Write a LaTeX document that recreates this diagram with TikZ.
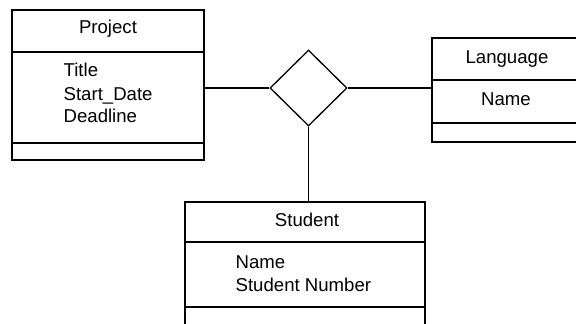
\documentclass[tikz,border=0pt]{standalone}
\usepackage{fontspec}
\setmainfont{Liberation Sans}
\usetikzlibrary{shapes.geometric}
\begin{document}
\begin{tikzpicture}[x=1pt,y=-1pt,
  line width=1.3pt,
  entity/.style={draw, rectangle, inner sep=0pt},
  relation/.style={draw, diamond, aspect=1, inner sep=0pt,
    minimum width=77pt, minimum height=76pt},
  label/.style={inner sep=0pt, font=\fontsize{18.6}{21}\selectfont}
]
\useasboundingbox (0,0) rectangle (576,324);
\clip (0,0) rectangle (576,324);

% entity boxes
\node[entity, minimum width=192pt, minimum height=150pt] (proj) at (108,85) {};
\node[entity, minimum width=146pt, minimum height=104pt] (lang) at (505,90) {};
\node[entity, minimum width=240pt, minimum height=128pt] (stud) at (305,266) {};

% compartment dividers
\draw (proj.west |- 0,52) -- (proj.east |- 0,52);
\draw (proj.west |- 0,143) -- (proj.east |- 0,143);
\draw (lang.west |- 0,80) -- (lang.east |- 0,80);
\draw (lang.west |- 0,123) -- (lang.east |- 0,123);
\draw (stud.west |- 0,242) -- (stud.east |- 0,242);
\draw (stud.west |- 0,307) -- (stud.east |- 0,307);

% relationship
\node[relation] (rel) at (308.5,88) {};
\draw (rel.west) -- (rel.west -| proj.east);
\draw (rel.east) -- (rel.east -| lang.west);
\draw (rel.south) -- (rel.south |- stud.north);

% texts
\node[label, anchor=base] (projname) at (108,33) {Project};
\node[label, anchor=base west] (ptitle) at (63,76) {Title};
\node[label, anchor=base west] (pstart) at (63,100) {Start\_Date};
\node[label, anchor=base west] (pdead) at (63,122) {Deadline};

\node[label, anchor=base] (langname) at (507,63) {Language};
\node[label, anchor=base] (lname) at (506,105) {Name};

\node[label, anchor=base] (studname) at (307,226) {Student};
\node[label, anchor=base west] (sname) at (235,268) {Name};
\node[label, anchor=base west] (snum) at (235,291) {Student Number};
\end{tikzpicture}
\end{document}
